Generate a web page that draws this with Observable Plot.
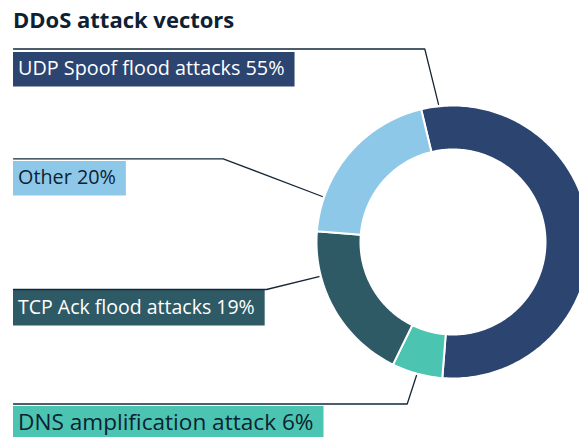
<!DOCTYPE html>
<html><head><meta charset="utf-8">
<script src="https://cdn.jsdelivr.net/npm/d3@7"></script>
<script src="https://cdn.jsdelivr.net/npm/@observablehq/plot@0.6"></script>
<style>
html,body{margin:0;padding:0;background:#fff;overflow:hidden;}
#title{font-family:"Open Sans",sans-serif;font-weight:700;font-size:22px;color:#0e2132;height:36px;line-height:39px;padding-left:13px;white-space:nowrap;}
#chart svg{display:block;}
</style></head><body>
<div id="title">DDoS attack vectors</div>
<div id="chart"></div>
<script>
// ---- data ----
const labels = ["UDP Spoof flood attacks", "Other", "TCP Ack flood attacks", "DNS amplification attack"];
const shares = [55, 20, 19, 6];
const colors = ["#2c4470", "#8ec8e8", "#2e5a66", "#4bc5b1"];
const textColors = ["#ffffff", "#0e2132", "#ffffff", "#0e2132"];
const clockwiseOrder = ["UDP Spoof flood attacks", "DNS amplification attack", "TCP Ack flood attacks", "Other"];

// ---- layout ----
const W = 579, H = 401, TOP = 36;
const cx = 452.5, cy = 241.5 - TOP;
const rOuter = 136.5, rInner = 92.5, rPointer = 138.4;
const startAngle = -13.5;
const boxTop = [52, 161, 290, 406].map(v => v - TOP);
const boxH = [34.5, 34.5, 35.5, 34];
const lineY = [48.5, 158.3, 289, 403.5].map(v => v - TOP);
const bendX = [424.3, 222.7, 266, 406.7];
const pointerAngle = [-6, -70.8, -104.5, 195.3];
const fontSizes = [19.8, 19.8, 19.5, 22.6];
const fontFamily = "Open Sans";
const leaderColor = "#14283a";

function pt(r, deg) {
  const t = deg * Math.PI / 180;
  return {x: cx + r * Math.sin(t), y: cy - r * Math.cos(t)};
}
const total = d3.sum(shares);
let acc = startAngle;
const slices = clockwiseOrder.map(name => {
  const i = labels.indexOf(name);
  const span = shares[i] / total * 360;
  const s = {i, a0: acc, a1: acc + span};
  acc += span;
  return s;
});
function ring(s) {
  const n = Math.max(2, Math.ceil(s.a1 - s.a0));
  const pts = [];
  for (let k = 0; k <= n; k++) pts.push(pt(rOuter, s.a0 + (s.a1 - s.a0) * k / n));
  for (let k = n; k >= 0; k--) pts.push(pt(rInner, s.a0 + (s.a1 - s.a0) * k / n));
  return pts;
}
const ctx = document.createElement("canvas").getContext("2d");

const marks = [];
for (const s of slices) {
  marks.push(Plot.line(ring(s), {x: "x", y: "y", fill: colors[s.i], stroke: "white", strokeWidth: 2, curve: "linear-closed"}));
}
labels.forEach((lab, i) => {
  const text = `${lab} ${shares[i]}%`;
  const fontSize = fontSizes[i];
  ctx.font = `${fontSize}px "${fontFamily}"`;
  const tw = ctx.measureText(text).width;
  const tx = 17.5;
  marks.push(Plot.rect([{x1: 13, x2: tx + tw + 10.5, y1: boxTop[i], y2: boxTop[i] + boxH[i]}], {x1: "x1", x2: "x2", y1: "y1", y2: "y2", fill: colors[i]}));
  marks.push(Plot.text([{x: tx, y: boxTop[i] + boxH[i] / 2 - 1, t: text}], {x: "x", y: "y", text: "t", textAnchor: "start", fill: textColors[i], fontSize, fontFamily}));
  const p = pt(rPointer, pointerAngle[i]);
  marks.push(Plot.line([{x: 13, y: lineY[i]}, {x: bendX[i], y: lineY[i]}, p], {x: "x", y: "y", stroke: leaderColor, strokeWidth: 1.3}));
});

const chart = Plot.plot({
  width: W, height: H, margin: 0,
  x: {domain: [0, W], range: [0, W], axis: null},
  y: {domain: [0, H], range: [0, H], axis: null},
  style: {overflow: "hidden", background: "white"},
  marks
});
document.getElementById("chart").appendChild(chart);
</script>
</body></html>
